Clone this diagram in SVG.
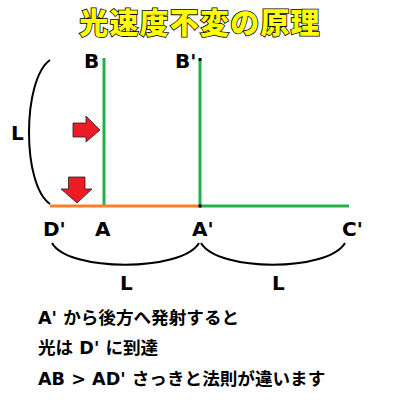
<svg xmlns="http://www.w3.org/2000/svg" width="400" height="400" viewBox="0 0 400 400">
<style>
.lbl{font-family:"DejaVu Sans","Noto Sans CJK JP",sans-serif;font-weight:bold;font-size:20px;fill:#000}
.txt{font-family:"DejaVu Sans","Noto Sans CJK JP",sans-serif;font-weight:bold;font-size:17.6px;fill:#000}
.title{font-family:"Noto Sans CJK JP",sans-serif;font-weight:900;font-size:29px;letter-spacing:1.2px;fill:#FFFF00;stroke:#000;stroke-width:1.6;paint-order:stroke}
.brace{fill:none;stroke:#000;stroke-width:2}
.arrow{fill:#ED1C24;stroke:#222;stroke-width:0.8}
</style>
<rect width="400" height="400" fill="#fff"/>
<text class="title" x="200" y="34" text-anchor="middle">光速度不変の原理</text>
<g id="connectors">
<line x1="104" y1="58" x2="104" y2="206" stroke="#22B14C" stroke-width="3"/>
<line x1="200" y1="60" x2="200" y2="206" stroke="#22B14C" stroke-width="3"/>
<rect x="198.5" y="58" width="3" height="3" fill="#000"/>
<line x1="50" y1="206" x2="200" y2="206" stroke="#FF7F27" stroke-width="3"/>
<line x1="200" y1="206" x2="349" y2="206" stroke="#22B14C" stroke-width="3"/>
<rect x="198.5" y="204.5" width="3" height="3" fill="#000"/>
<path class="brace" d="M50,60 C22,80 22,185 50,204"/>
<path class="brace" d="M52,243 C68,272 182,272 199,243"/>
<path class="brace" d="M201,243 C218,272 328,272 345,243"/>
</g>
<g id="arrow-right"><path class="arrow" d="M73,123 H86 V116 L100,130 L86,142 V137 H73 Z"/></g>
<g id="arrow-down"><path class="arrow" d="M68.5,177 H85 V189 H92 L77,203 L61,189 H68.5 Z"/></g>
<g id="labels">
<text class="lbl" x="84" y="68">B</text>
<text class="lbl" x="175" y="68">B'</text>
<text class="lbl" x="11" y="140">L</text>
<text class="lbl" x="43" y="236">D'</text>
<text class="lbl" x="95" y="236">A</text>
<text class="lbl" x="192" y="236">A'</text>
<text class="lbl" x="342" y="236">C'</text>
<text class="lbl" x="120" y="290">L</text>
<text class="lbl" x="272" y="290">L</text>
</g>
<g id="notes">
<text class="txt" x="38" y="324">A' から後方へ発射すると</text>
<text class="txt" x="38" y="354">光は D' に到達</text>
<text class="txt" x="38" y="385">AB &gt; AD' さっきと法則が違います</text>
</g>
</svg>
